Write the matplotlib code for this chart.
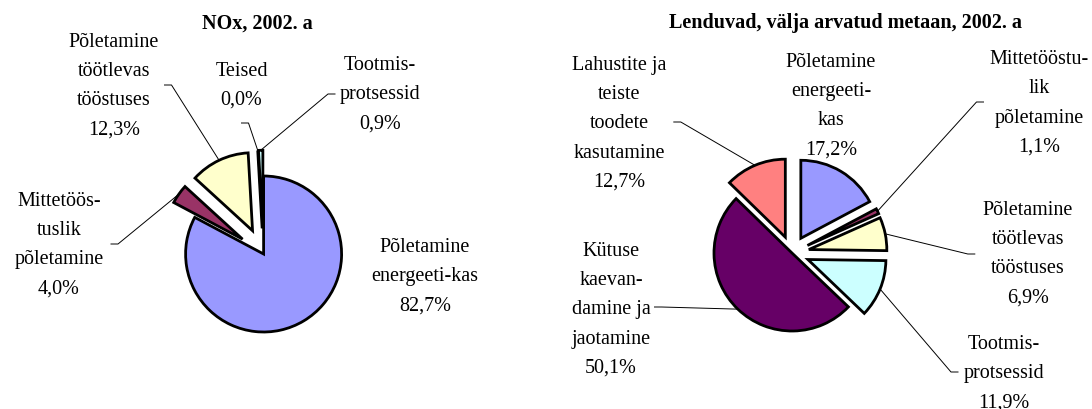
import numpy as np
import matplotlib
matplotlib.use("Agg")
import matplotlib.pyplot as plt

W, H = 1092, 410
FONT = "Liberation Serif"

# NOx, 2002
nox_title = "NOx, 2002. a"
nox_names = ["Põletamine\nenergeeti-kas", "Mittetöös-\ntuslik\npõletamine",
             "Põletamine\ntöötlevas\ntööstuses", "Teised", "Tootmis-\nprotsessid"]
nox_values = [82.7, 4.0, 12.3, 0.0, 0.9]
nox_colors = ["#9999FF", "#993366", "#FFFFCC", "#FFFFFF", "#CCFFFF"]
nox_explode = [0.0, 0.33, 0.33, 0.33, 0.33]

# NMVOC, 2002
voc_title = "Lenduvad, välja arvatud metaan, 2002. a"
voc_names = ["Põletamine\nenergeeti-\nkas", "Mittetööstu-\nlik\npõletamine",
             "Põletamine\ntöötlevas\ntööstuses", "Tootmis-\nprotsessid",
             "Kütuse\nkaevan-\ndamine ja\njaotamine",
             "Lahustite ja\nteiste\ntoodete\nkasutamine"]
voc_values = [17.2, 1.1, 6.9, 11.9, 50.1, 12.7]
voc_colors = ["#9999FF", "#993366", "#FFFFCC", "#CCFFFF", "#660066", "#FF8080"]
voc_explode = [0.22, 0.22, 0.22, 0.22, 0.0, 0.22]


def pct(v):
    return ("%.1f" % v).replace(".", ",") + "%"


fig = plt.figure(figsize=(W / 100, H / 100), dpi=100)
bg = fig.add_axes([0, 0, 1, 1])
bg.set_xlim(0, W)
bg.set_ylim(H, 0)
bg.axis("off")


def draw_pie(cx, cy, r, values, colors, explode, title, tpos, names, lpos, leaders):
    half = 150
    ax = fig.add_axes([(cx - half) / W, (H - cy - half) / H, 2 * half / W, 2 * half / H])
    ax.patch.set_alpha(0)
    wedges, _ = ax.pie(values, colors=colors, explode=explode, startangle=90,
                       counterclock=False,
                       wedgeprops=dict(edgecolor="black", linewidth=2.0))
    lim = half / r
    ax.set_xlim(-lim, lim)
    ax.set_ylim(-lim, lim)
    ax.axis("off")

    bg.text(tpos[0], tpos[1], title, ha="center", va="center", fontsize=14.5,
            fontweight="bold", family=FONT)
    for i, (name, v) in enumerate(zip(names, values)):
        bg.text(lpos[i][0], lpos[i][1], name + "\n" + pct(v), ha="center",
                va="center", fontsize=14.5, family=FONT, linespacing=1.72)
        if leaders[i] is None:
            continue
        # leader: short horizontal tick at the label, then to the slice's outer arc
        w = wedges[i]
        mid = np.radians((w.theta1 + w.theta2) / 2)
        rr = r * (1 + explode[i])
        px = cx + rr * np.cos(mid)
        py = cy - rr * np.sin(mid)
        x0, y0 = leaders[i]
        step = 7 if px > x0 else -7
        bg.plot([x0, x0 + step, px], [y0, y0, py], color="black", lw=0.7)


draw_pie(263.6, 255, 78, nox_values, nox_colors, nox_explode, nox_title, (257, 24),
         nox_names,
         [(425, 277), (59, 245), (114, 86), (241.5, 86), (380, 95)],
         [None, (111, 245), (164.5, 86), (241.5, 124), (335, 95)])

draw_pie(792, 254, 78, voc_values, voc_colors, voc_explode, voc_title, (845.6, 23),
         voc_names,
         [(831, 106), (1039.5, 103.5), (1028, 254), (1004, 374), (611, 310), (619.5, 124)],
         [None, (983.5, 103), (974.8, 255), (958, 373), (654.5, 308), (673.8, 123)])

fig.savefig("out.png", dpi=100)
